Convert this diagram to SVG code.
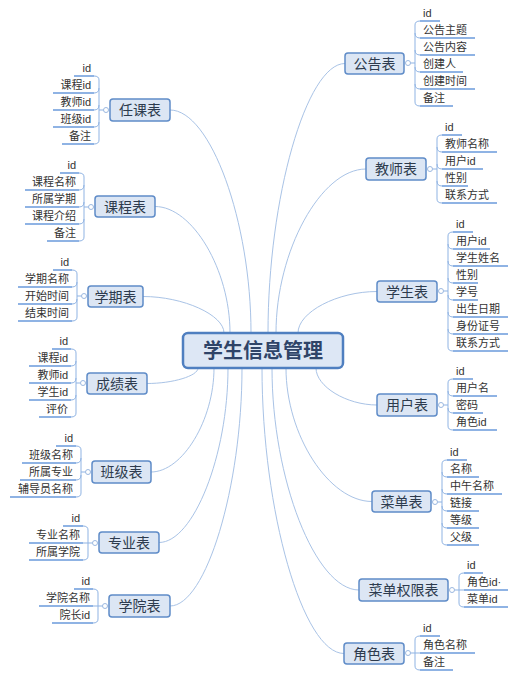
<svg xmlns="http://www.w3.org/2000/svg" width="519" height="678" viewBox="0 0 519 678">
<style>
.bg{fill:#ffffff}
.conn{fill:none;stroke:#a9c3e6;stroke-width:1}
.br{fill:none;stroke:#8fb3e3;stroke-width:1}
.ul{fill:none;stroke:#6b9bdc;stroke-width:1.5}
.dot{fill:#ffffff;stroke:#9bb8e0;stroke-width:1}
.box{fill:#dce6f4;stroke:#5f8cc8;stroke-width:1.5}
.cbox{fill:#dde7f5;stroke:#4f7fc0;stroke-width:2.5}
.lbl{font-family:"Liberation Sans","Noto Sans CJK SC",sans-serif;font-size:14px;fill:#2d3b4e;text-anchor:middle}
.ctr{font-family:"Liberation Sans","Noto Sans CJK SC",sans-serif;font-size:20px;font-weight:bold;fill:#2f4468;text-anchor:middle}
.lf{font-family:"Liberation Sans","Noto Sans CJK SC",sans-serif;font-size:11px;fill:#333333}
.l{text-anchor:end}
</style>
<rect class="bg" x="0" y="0" width="519" height="678"/>
<g id="connectors">
<path class="conn" d="M170,110 C210.5,110 251,221.5 251,333"/>
<path class="conn" d="M155,206.5 C192.5,206.5 230,270 230,333"/>
<path class="conn" d="M143,296.5 C183.5,296.5 224,315 224,333"/>
<path class="conn" d="M345,63.5 C306.5,63.5 268,198 268,333"/>
<path class="conn" d="M366,169 C321,169 276,251 276,333"/>
<path class="conn" d="M377,291.5 C337.5,291.5 298,312 298,333"/>
<path class="conn" d="M147,383.5 C172.5,383.5 198,376 198,368"/>
<path class="conn" d="M151,472 C182.5,472 214,420 214,368"/>
<path class="conn" d="M159,542.5 C193.5,542.5 228,455 228,368"/>
<path class="conn" d="M170,606 C206,606 242,487 242,368"/>
<path class="conn" d="M344,653.5 C303,653.5 262,511 262,368"/>
<path class="conn" d="M359,590 C315.5,590 272,479 272,368"/>
<path class="conn" d="M372,501.5 C329,501.5 286,435 286,368"/>
<path class="conn" d="M377,405 C346.5,405 316,386.5 316,368"/>
</g>
<g id="center">
<rect class="cbox" x="183" y="333" width="160" height="35" rx="5"/>
<text class="ctr" x="263" y="357.5">学生信息管理</text>
</g>
<g id="gonggao">
<path class="br" d="M420,21 Q415,21 415,25 V102 Q415,106 420,106 M415,33 Q415,38 420,38 M415,50 Q415,55 420,55 M415,67 Q415,72 420,72 M415,84 Q415,89 420,89 M410.5,63 H415"/>
<path class="ul" d="M420,21 H440 M420,38 H475 M420,55 H475 M420,72 H463 M420,89 H475 M420,106 H453"/>
<rect class="box" x="345" y="53" width="59" height="21" rx="3"/>
<text class="lbl" x="374.5" y="68.5">公告表</text>
<circle class="dot" cx="408" cy="63" r="2.5"/>
<text class="lf" x="423" y="17">id</text>
<text class="lf" x="423" y="34">公告主题</text>
<text class="lf" x="423" y="51">公告内容</text>
<text class="lf" x="423" y="68">创建人</text>
<text class="lf" x="423" y="85">创建时间</text>
<text class="lf" x="423" y="102">备注</text>
</g>
<g id="jiaoshi">
<path class="br" d="M442,135 Q437,135 437,139 V199 Q437,203 442,203 M437,147 Q437,152 442,152 M437,164 Q437,169 442,169 M437,181 Q437,186 442,186 M432.5,169 H437"/>
<path class="ul" d="M442,135 H462 M442,152 H497 M442,169 H483 M442,186 H468 M442,203 H497"/>
<rect class="box" x="366" y="158" width="60" height="22" rx="3"/>
<text class="lbl" x="396" y="174">教师表</text>
<circle class="dot" cx="430" cy="169" r="2.5"/>
<text class="lf" x="445" y="131">id</text>
<text class="lf" x="445" y="148">教师名称</text>
<text class="lf" x="445" y="165">用户id</text>
<text class="lf" x="445" y="182">性别</text>
<text class="lf" x="445" y="199">联系方式</text>
</g>
<g id="xuesheng">
<path class="br" d="M453,232 Q448,232 448,236 V347 Q448,351 453,351 M448,244 Q448,249 453,249 M448,261 Q448,266 453,266 M448,278 Q448,283 453,283 M448,295 Q448,300 453,300 M448,312 Q448,317 453,317 M448,329 Q448,334 453,334 M443.5,291 H448"/>
<path class="ul" d="M453,232 H473 M453,249 H490 M453,266 H508 M453,283 H478 M453,300 H478 M453,317 H508 M453,334 H508 M453,351 H508"/>
<rect class="box" x="377" y="281" width="60" height="21" rx="3"/>
<text class="lbl" x="407" y="296.5">学生表</text>
<circle class="dot" cx="441" cy="291" r="2.5"/>
<text class="lf" x="456" y="228">id</text>
<text class="lf" x="456" y="245">用户id</text>
<text class="lf" x="456" y="262">学生姓名</text>
<text class="lf" x="456" y="279">性别</text>
<text class="lf" x="456" y="296">学号</text>
<text class="lf" x="456" y="313">出生日期</text>
<text class="lf" x="456" y="330">身份证号</text>
<text class="lf" x="456" y="347">联系方式</text>
</g>
<g id="yonghu">
<path class="br" d="M453,379 Q448,379 448,383 V426 Q448,430 453,430 M448,391 Q448,396 453,396 M448,408 Q448,413 453,413 M443.5,405 H448"/>
<path class="ul" d="M453,379 H473 M453,396 H497 M453,413 H483 M453,430 H497"/>
<rect class="box" x="377" y="394" width="60" height="22" rx="3"/>
<text class="lbl" x="407" y="410">用户表</text>
<circle class="dot" cx="441" cy="405" r="2.5"/>
<text class="lf" x="456" y="375">id</text>
<text class="lf" x="456" y="392">用户名</text>
<text class="lf" x="456" y="409">密码</text>
<text class="lf" x="456" y="426">角色id</text>
</g>
<g id="caidan">
<path class="br" d="M447,460 Q442,460 442,464 V541 Q442,545 447,545 M442,472 Q442,477 447,477 M442,489 Q442,494 447,494 M442,506 Q442,511 447,511 M442,523 Q442,528 447,528 M437.5,502 H442"/>
<path class="ul" d="M447,460 H467 M447,477 H479 M447,494 H502 M447,511 H479 M447,528 H479 M447,545 H479"/>
<rect class="box" x="372" y="491" width="59" height="21" rx="3"/>
<text class="lbl" x="401.5" y="506.5">菜单表</text>
<circle class="dot" cx="435" cy="502" r="2.5"/>
<text class="lf" x="450" y="456">id</text>
<text class="lf" x="450" y="473">名称</text>
<text class="lf" x="450" y="490">中午名称</text>
<text class="lf" x="450" y="507">链接</text>
<text class="lf" x="450" y="524">等级</text>
<text class="lf" x="450" y="541">父级</text>
</g>
<g id="caidanquanxian">
<path class="br" d="M464,573 Q459,573 459,577 V603 Q459,607 464,607 M454.5,590 H464"/>
<path class="ul" d="M464,573 H483 M464,590 H508 M464,607 H508"/>
<rect class="box" x="359" y="579" width="89" height="22" rx="3"/>
<text class="lbl" x="403.5" y="595">菜单权限表</text>
<circle class="dot" cx="452" cy="590" r="2.5"/>
<text class="lf" x="467" y="569">id</text>
<text class="lf" x="467" y="586">角色id·</text>
<text class="lf" x="467" y="603">菜单id</text>
</g>
<g id="jiaose">
<path class="br" d="M420,636 Q415,636 415,640 V666 Q415,670 420,670 M410.5,653 H420"/>
<path class="ul" d="M420,636 H440 M420,653 H475 M420,670 H453"/>
<rect class="box" x="344" y="643" width="60" height="21" rx="3"/>
<text class="lbl" x="374" y="658.5">角色表</text>
<circle class="dot" cx="408" cy="653" r="2.5"/>
<text class="lf" x="423" y="632">id</text>
<text class="lf" x="423" y="649">角色名称</text>
<text class="lf" x="423" y="666">备注</text>
</g>
<g id="renke">
<path class="br" d="M94,76 Q99,76 99,80 V140 Q99,144 94,144 M99,88 Q99,93 94,93 M99,105 Q99,110 94,110 M99,122 Q99,127 94,127 M103.5,110 H99"/>
<path class="ul" d="M94,76 H74 M94,93 H53 M94,110 H53 M94,127 H53 M94,144 H62"/>
<rect class="box" x="110" y="99" width="60" height="22" rx="3"/>
<text class="lbl" x="140" y="115">任课表</text>
<circle class="dot" cx="106" cy="110" r="2.5"/>
<text class="lf l" x="91" y="72">id</text>
<text class="lf l" x="91" y="89">课程id</text>
<text class="lf l" x="91" y="106">教师id</text>
<text class="lf l" x="91" y="123">班级id</text>
<text class="lf l" x="91" y="140">备注</text>
</g>
<g id="kecheng">
<path class="br" d="M79,173 Q84,173 84,177 V237 Q84,241 79,241 M84,185 Q84,190 79,190 M84,202 Q84,207 79,207 M84,219 Q84,224 79,224 M88.5,207 H84"/>
<path class="ul" d="M79,173 H60 M79,190 H25 M79,207 H25 M79,224 H25 M79,241 H47"/>
<rect class="box" x="95" y="196" width="60" height="21" rx="3"/>
<text class="lbl" x="125" y="211.5">课程表</text>
<circle class="dot" cx="91" cy="207" r="2.5"/>
<text class="lf l" x="76" y="169">id</text>
<text class="lf l" x="76" y="186">课程名称</text>
<text class="lf l" x="76" y="203">所属学期</text>
<text class="lf l" x="76" y="220">课程介绍</text>
<text class="lf l" x="76" y="237">备注</text>
</g>
<g id="xueqi">
<path class="br" d="M72,270 Q77,270 77,274 V317 Q77,321 72,321 M77,282 Q77,287 72,287 M77,299 Q77,304 72,304 M81.5,296 H77"/>
<path class="ul" d="M72,270 H53 M72,287 H18 M72,304 H18 M72,321 H18"/>
<rect class="box" x="88" y="286" width="55" height="21" rx="3"/>
<text class="lbl" x="115.5" y="301.5">学期表</text>
<circle class="dot" cx="84" cy="296" r="2.5"/>
<text class="lf l" x="69" y="266">id</text>
<text class="lf l" x="69" y="283">学期名称</text>
<text class="lf l" x="69" y="300">开始时间</text>
<text class="lf l" x="69" y="317">结束时间</text>
</g>
<g id="chengji">
<path class="br" d="M71,349 Q76,349 76,353 V413 Q76,417 71,417 M76,361 Q76,366 71,366 M76,378 Q76,383 71,383 M76,395 Q76,400 71,400 M80.5,383 H76"/>
<path class="ul" d="M71,349 H52 M71,366 H29 M71,383 H29 M71,400 H29 M71,417 H39"/>
<rect class="box" x="87" y="373" width="60" height="21" rx="3"/>
<text class="lbl" x="117" y="388.5">成绩表</text>
<circle class="dot" cx="83" cy="383" r="2.5"/>
<text class="lf l" x="68" y="345">id</text>
<text class="lf l" x="68" y="362">课程id</text>
<text class="lf l" x="68" y="379">教师id</text>
<text class="lf l" x="68" y="396">学生id</text>
<text class="lf l" x="68" y="413">评价</text>
</g>
<g id="banji">
<path class="br" d="M76,446 Q81,446 81,450 V493 Q81,497 76,497 M81,458 Q81,463 76,463 M81,475 Q81,480 76,480 M85.5,472 H81"/>
<path class="ul" d="M76,446 H56 M76,463 H22 M76,480 H20 M76,497 H10"/>
<rect class="box" x="92" y="461" width="59" height="22" rx="3"/>
<text class="lbl" x="121.5" y="477">班级表</text>
<circle class="dot" cx="88" cy="472" r="2.5"/>
<text class="lf l" x="73" y="442">id</text>
<text class="lf l" x="73" y="459">班级名称</text>
<text class="lf l" x="73" y="476">所属专业</text>
<text class="lf l" x="73" y="493">辅导员名称</text>
</g>
<g id="zhuanye">
<path class="br" d="M83,526 Q88,526 88,530 V556 Q88,560 83,560 M92.5,543 H83"/>
<path class="ul" d="M83,526 H63 M83,543 H29 M83,560 H29"/>
<rect class="box" x="99" y="532" width="60" height="21" rx="3"/>
<text class="lbl" x="129" y="547.5">专业表</text>
<circle class="dot" cx="95" cy="543" r="2.5"/>
<text class="lf l" x="80" y="522">id</text>
<text class="lf l" x="80" y="539">专业名称</text>
<text class="lf l" x="80" y="556">所属学院</text>
</g>
<g id="xueyuan">
<path class="br" d="M93,589 Q98,589 98,593 V619 Q98,623 93,623 M102.5,606 H93"/>
<path class="ul" d="M93,589 H74 M93,606 H39 M93,623 H52"/>
<rect class="box" x="109" y="595" width="61" height="22" rx="3"/>
<text class="lbl" x="139.5" y="611">学院表</text>
<circle class="dot" cx="105" cy="606" r="2.5"/>
<text class="lf l" x="90" y="585">id</text>
<text class="lf l" x="90" y="602">学院名称</text>
<text class="lf l" x="90" y="619">院长id</text>
</g>
</svg>
